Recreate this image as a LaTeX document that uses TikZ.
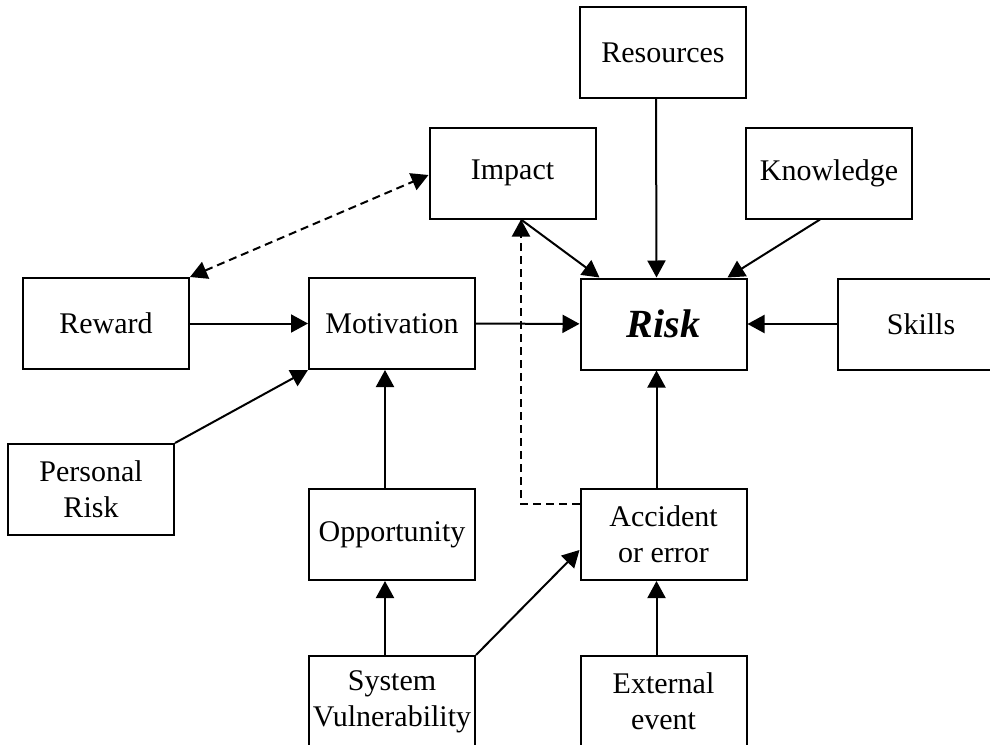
\documentclass[tikz,border=0pt]{standalone}
\usepackage{fontspec}
\setmainfont{Liberation Serif}
\usetikzlibrary{arrows.meta}

\begin{document}
\begin{tikzpicture}[x=0.5pt,y=-0.5pt,
  box/.style={draw,line width=1pt,minimum width=83pt,minimum height=45.5pt,inner sep=0pt,
    align=center,font=\fontsize{15}{18}\selectfont},
  arr/.style={line width=1pt,-{Triangle[length=8.5pt,width=9pt]}},
  darr/.style={line width=1pt,dash pattern=on 4pt off 2.5pt,-{Triangle[length=8.5pt,width=9pt]}},
  ddarr/.style={darr,{Triangle[length=8.5pt,width=9pt]}-{Triangle[length=8.5pt,width=9pt]}}]
\useasboundingbox (0,0) rectangle (990,744);
% boxes
\node[box] (res) at (663,52.5) {Resources};
\node[box] (imp) at (512.5,173) {Impact};
\node[box] (know) at (829,173) {Knowledge};
\node[box] (rew) at (106,323.5) {Reward};
\node[box] (mot) at (392,323.5) {Motivation};
\node[box,font=\fontsize{20}{24}\selectfont\bfseries\itshape] (risk) at (663.5,324) {Risk};
\node[box] (skills) at (921,324) {Skills};
\node[box] (pers) at (91,489.5) {Personal\\Risk};
\node[box] (opp) at (392,534.5) {Opportunity};
\node[box] (acc) at (663.5,534.5) {Accident\\or error};
\node[box] (sys) at (392,701.5) {System\\Vulnerability};
\node[box] (ext) at (663.5,701) {External\\event};
% arrows into risk
\draw[arr] ([xshift=-3.5pt]res.south) -- ([xshift=-3.5pt]risk.north);
\draw[arr] ([xshift=4.25pt]imp.south) -- ([xshift=-32pt]risk.north);
\draw[arr] ([xshift=-4.5pt]know.south) -- ([xshift=32pt]risk.north);
\draw[arr] (mot) -- (risk);
\draw[arr] (skills) -- (risk);
\draw[arr] ([xshift=-3.5pt]acc.north) -- ([xshift=-3.5pt]risk.south);
% motivation side
\draw[arr] (rew) -- (mot);
\draw[arr] (pers.north east) -- (mot.south west);
\draw[arr] ([xshift=-3.5pt]opp.north) -- ([xshift=-3.5pt]mot.south);
\draw[arr] ([xshift=-3.5pt]sys.north) -- ([xshift=-3.5pt]opp.south);
% lower right
\draw[arr] (sys.north east) -- ([yshift=-7.75pt]acc.west);
\draw[arr] ([xshift=-3.5pt]ext.north) -- ([xshift=-3.5pt]acc.south);
% dashed
\draw[darr] ([yshift=15.25pt]acc.west) -| ([xshift=4.25pt]imp.south);
\draw[ddarr] (rew.north east) -- ([yshift=-1pt]imp.west);
\end{tikzpicture}
\end{document}
